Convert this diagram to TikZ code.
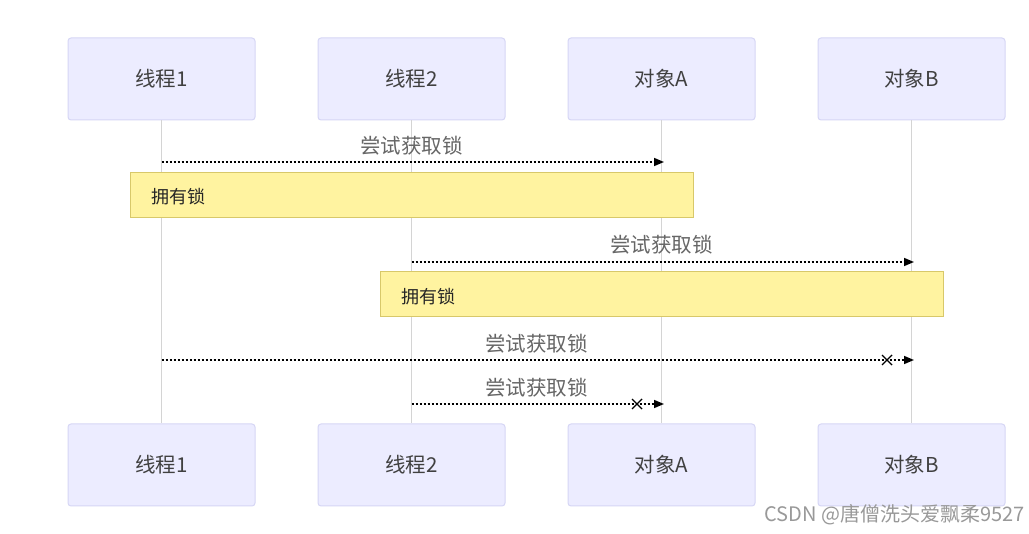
\documentclass[tikz,border=0pt]{standalone}
\usepackage{fontspec}
\newfontfamily\cjk{Noto Sans CJK SC}
\usetikzlibrary{arrows.meta}
\definecolor{actfill}{HTML}{ECECFF}
\definecolor{actdraw}{HTML}{D6D6F5}
\definecolor{notefill}{HTML}{FFF3A0}
\definecolor{notedraw}{HTML}{D8C86A}
\definecolor{lifeline}{HTML}{D4D4D4}
\definecolor{msgtext}{HTML}{666666}
\tikzset{
  actor/.style={draw=actdraw, fill=actfill, rounded corners=3pt, line width=1pt,
    minimum width=187pt, minimum height=82pt, inner sep=0pt,
    font=\cjk\fontsize{20.5}{24}\selectfont, text=black!75},
  notebox/.style={draw=notedraw, fill=notefill, line width=1pt,
    minimum width=563pt, minimum height=45pt, inner sep=0pt},
  notetext/.style={font=\cjk\fontsize{18}{21}\selectfont, text=black!85, anchor=west, inner sep=0pt},
  life/.style={draw=lifeline, line width=1pt},
  msg/.style={line width=1.5pt, dash pattern=on 2pt off 2pt, -{Triangle[length=10pt,width=8pt]}},
  msglabel/.style={font=\cjk\fontsize{20.5}{24}\selectfont, text=msgtext, inner sep=0pt},
  crossmark/.style={line width=1.4pt}
}
\begin{document}
\begin{tikzpicture}[x=1pt,y=-1pt]
\useasboundingbox[fill=white] (0,0) rectangle (1029,534);
% actors top
\node[actor] (t1) at (161.5,79) {线程1};
\node[actor] (t2) at (411.5,79) {线程2};
\node[actor] (t3) at (661.5,79) {对象A};
\node[actor] (t4) at (911.5,79) {对象B};
% actors bottom
\node[actor] (b1) at (161.5,465) {线程1};
\node[actor] (b2) at (411.5,465) {线程2};
\node[actor] (b3) at (661.5,465) {对象A};
\node[actor] (b4) at (911.5,465) {对象B};
% lifelines
\draw[life] (t1.south) -- (b1.north);
\draw[life] (t2.south) -- (b2.north);
\draw[life] (t3.south) -- (b3.north);
\draw[life] (t4.south) -- (b4.north);
% message 1
\coordinate (m1s) at (161.5,162);
\coordinate (m1e) at (664,162);
\draw[msg] (m1s) -- (m1e);
\node[msglabel] (l1) at (411.5,146) {尝试获取锁};
% note 1
\node[notebox] (n1) at (411.5,195.5) {};
\node[notetext] (n1t) at (151,197) {拥有锁};
% message 2
\coordinate (m2s) at (411.5,262);
\coordinate (m2e) at (914,262);
\draw[msg] (m2s) -- (m2e);
\node[msglabel] (l2) at (661.5,245) {尝试获取锁};
% note 2
\node[notebox] (n2) at (661.5,294.5) {};
\node[notetext] (n2t) at (401,297) {拥有锁};
% message 3
\coordinate (m3s) at (161.5,360);
\coordinate (m3e) at (914,360);
\draw[msg] (m3s) -- (m3e);
\coordinate (x3) at (887,360);
\draw[crossmark] ([shift={(-5,-5)}]x3) -- ([shift={(5,5)}]x3) ([shift={(-5,5)}]x3) -- ([shift={(5,-5)}]x3);
\node[msglabel] (l3) at (536.5,344) {尝试获取锁};
% message 4
\coordinate (m4s) at (411.5,404);
\coordinate (m4e) at (664,404);
\draw[msg] (m4s) -- (m4e);
\coordinate (x4) at (637,404);
\draw[crossmark] ([shift={(-5,-5)}]x4) -- ([shift={(5,5)}]x4) ([shift={(-5,5)}]x4) -- ([shift={(5,-5)}]x4);
\node[msglabel] (l4) at (536.5,388) {尝试获取锁};
% watermark
\node[font=\cjk\fontsize{20}{22}\selectfont, text=black!40, anchor=east, inner sep=0pt] (wm) at (1025,515) {CSDN @唐僧洗头爱飘柔9527};
\end{tikzpicture}
\end{document}
